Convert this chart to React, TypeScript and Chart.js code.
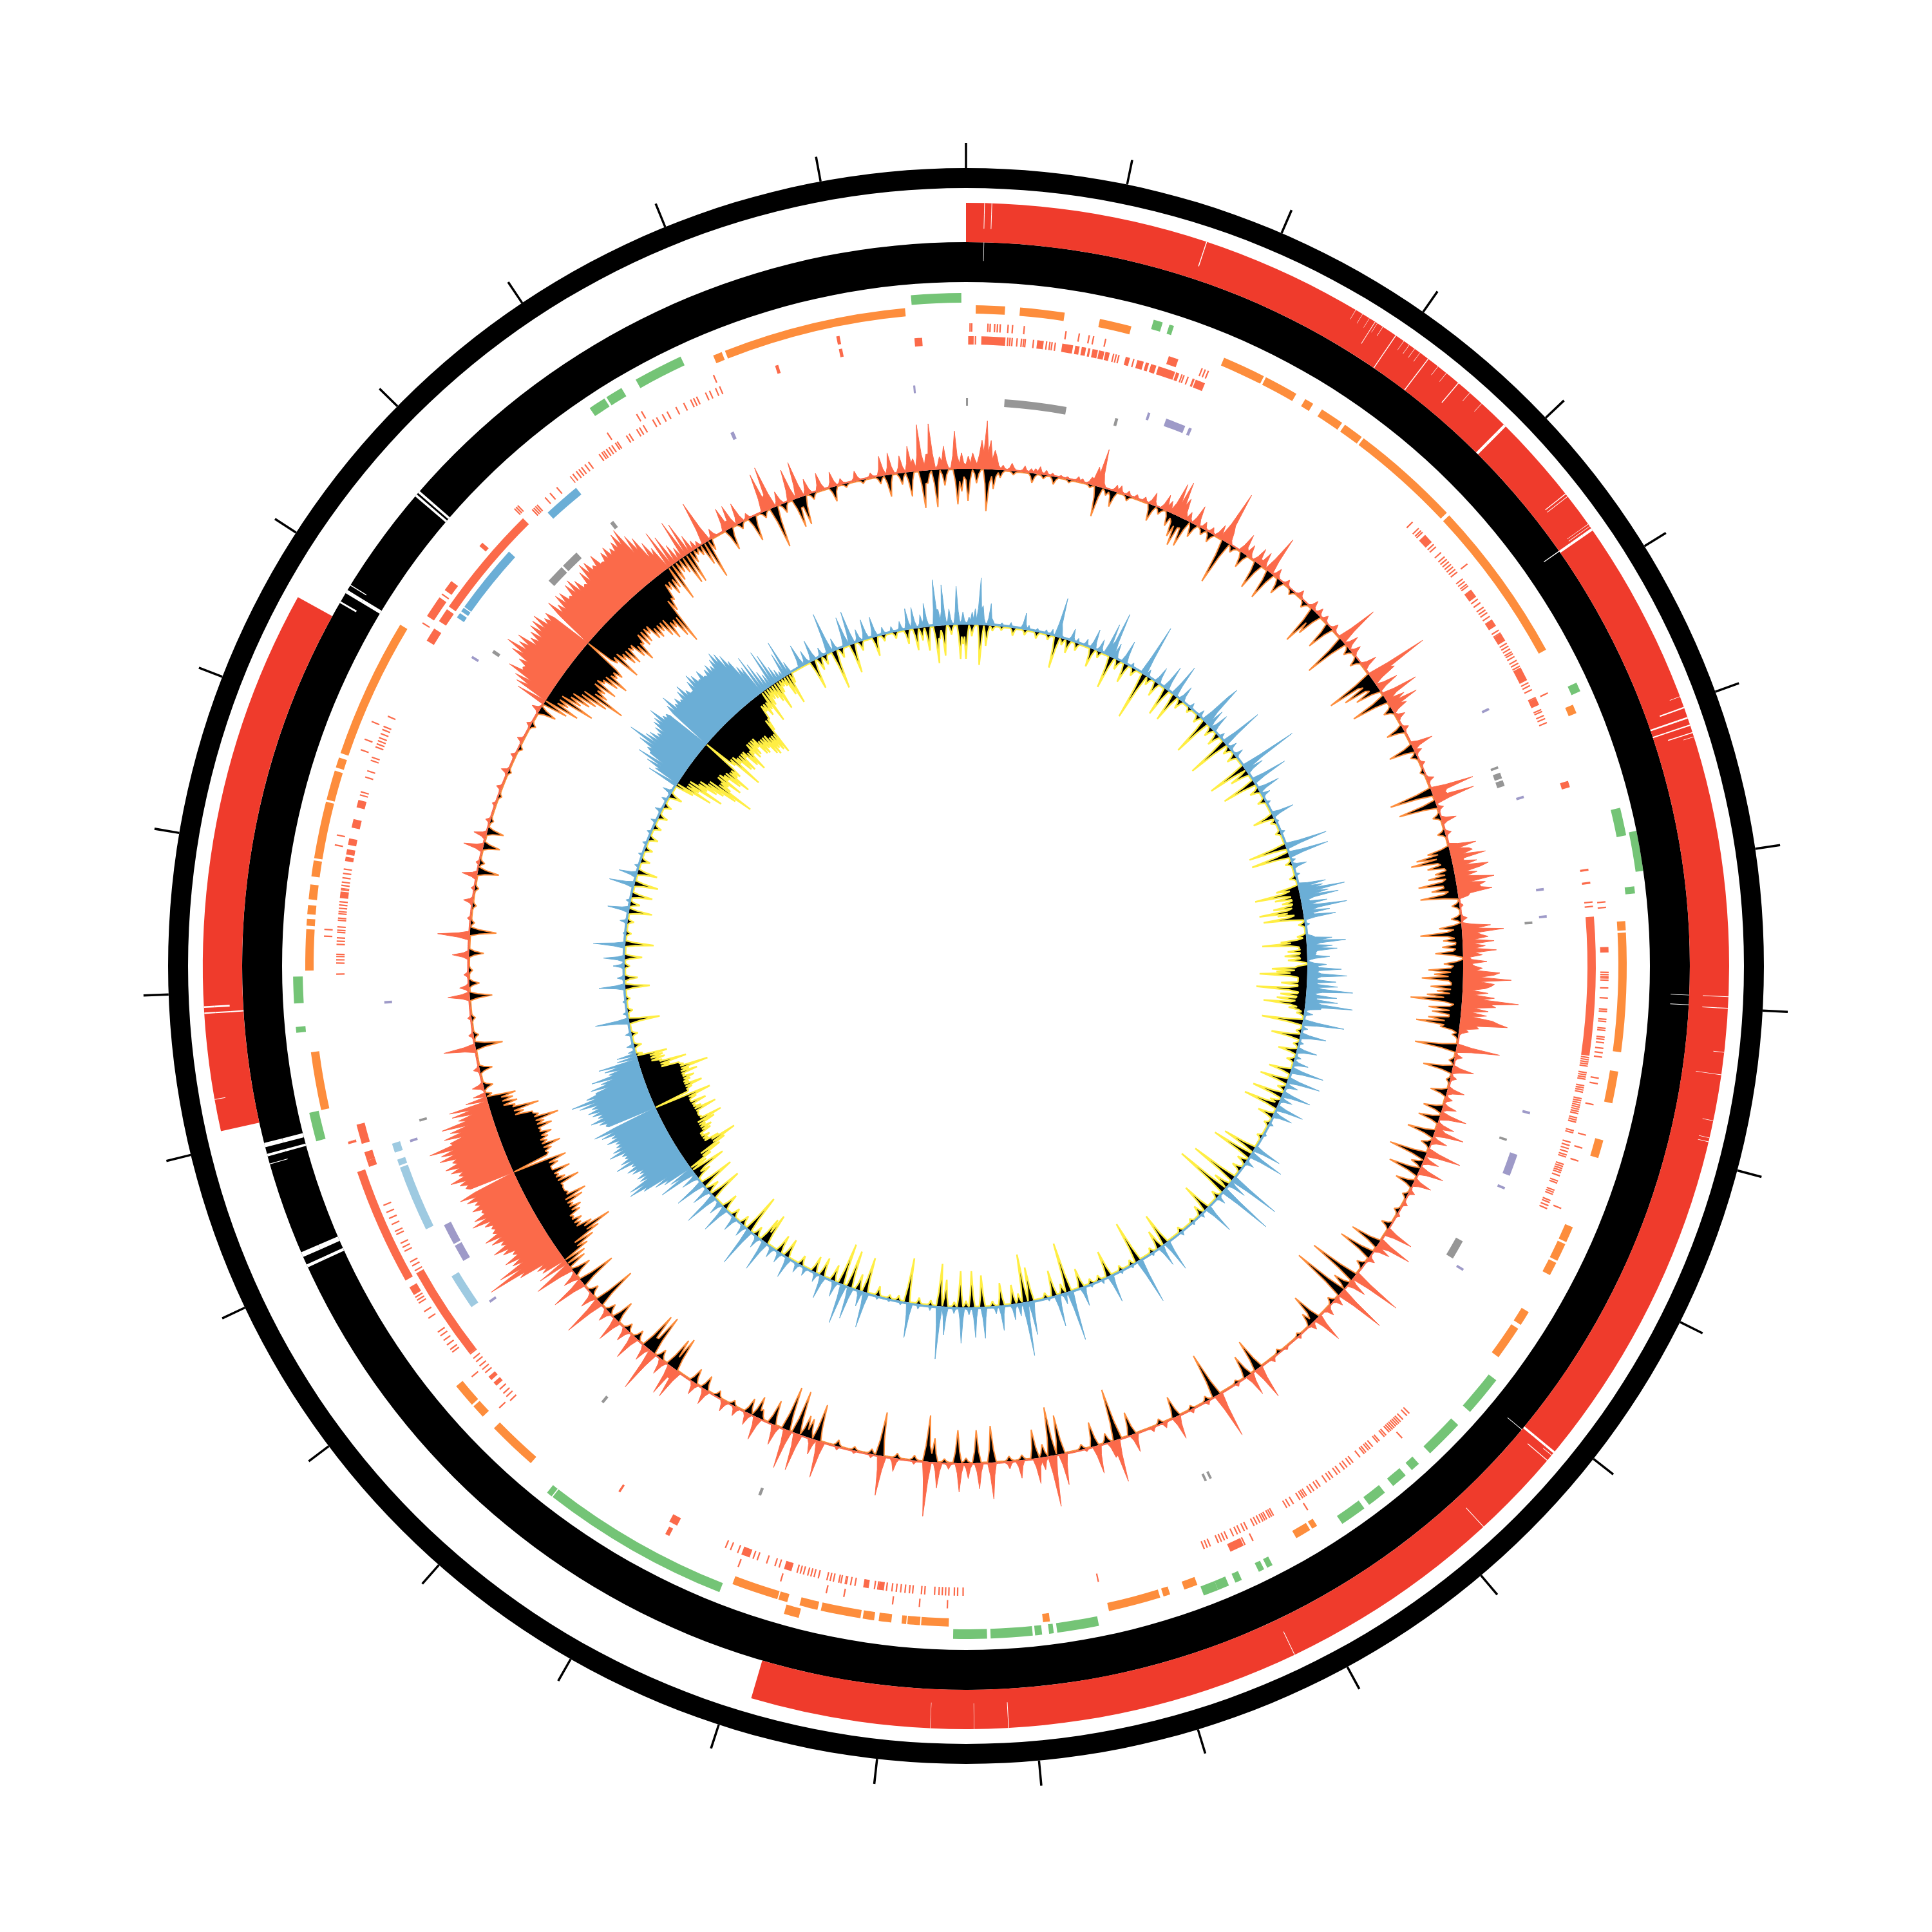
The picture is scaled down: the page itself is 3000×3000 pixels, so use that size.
import React, { useEffect, useRef } from "react";
import { Chart, registerables } from "chart.js";
Chart.register(...registerables);

const RED = "#ef3b2c", CORAL = "#fb6a4a", ORANGE = "#fd8d3c", GREEN = "#74c476", BLUE = "#6baed6",
  LIGHTBLUE = "#9ecae1", PURPLE = "#9e9ac8", GRAY = "#969696", YELLOW = "#ffee44", BLACK = "#000000";

const tickAngles = [0,11.65,23.3,34.95,46.6,58.25,69.9,81.55,93.2,104.85,116.5,128.15,139.8,151.45,163.1,174.75,186.4,198.05,209.7,221.35,233,244.65,256.3,267.95,279.6,291.25,302.9,314.55,326.2,337.85,349.5];
const outerBlack = [[0,360]];
const redSpans = [[0,196.35],[257.5,298.9]];
const innerBlack = [[0,360]];

const thinGreen = [[78.6,82]];
const greenSpans = [[355.3,359.6],[16.2,17],[17.6,18],[65.1,65.9],[76.4,78.8],[83.2,83.8],[128,131.5],[133,136.4],[137.7,138.5],[139.2,140.6],[141.5,143.2],[143.7,146],[152.9,153.4],[153.7,154.2],[155.8,156.4],[157,158],[158,159.3],[168.6,172.2],[172.5,172.9],[173.5,174.1],[174.3,177.9],[178.2,181.1],[201.5,217.9],[218,218.5],[254.9,257.4],[264.3,264.8],[266.8,269.1],[326,327.5],[327.7,329.2],[330.6,334.9]];
const greenLaneOrange = [[194.4,195.7]];
const orangeSpans = [[.85,3.4],[4.7,8.6],[11.7,14.5],[23,26.8],[27,30],[30.9,31.7],[32.6,34.7],[35,36.8],[37,46.7],[47,61.4],[66.7,67.5],[86.1,86.9],[87.1,97.5],[99.2,102],[105.3,106.9],[113.3,114.7],[114.9,116.5],[116.7,117.9],[121.6,122.9],[123.3,126.3],[147.9,148.4],[148.6,150],[159.5,160.7],[162,162.6],[162.9,167.5],[172.7,173.3],[181.5,183.9],[184,185.1],[185.2,185.6],[186.5,187.6],[188,189],[189.2,192.7],[193,194.6],[195.7,196.5],[196.6,200.7],[221.2,225.6],[227,228.2],[228.4,230.5],[257.4,262.5],[269.6,273.2],[273.5,274.1],[274.5,275.3],[275.8,277.1],[277.8,279.2],[279.4,284.4],[284.6,287.2],[287.5,288.4],[288.8,301.1],[337.5,338.3],[338.6,354.7]];

const r1Blocks = [[18.4,19.3],[88.3,88.8],[154.4,155.7],[207.5,207.9],[240.7,251.3],[253.9,254.1],[239.2,240],[303,305],[305.8,306.8],[310.8,311.2],[348.35,348.65]];
const r1Ticks = [.3,.45,1.9,2.1,2.5,2.75,3,3.7,4.1,5.15,8.9,10.1,11,11.4,12.5,21.5,21.8,22.1,51.2,64.8,84.2,84.7,90.5,90.7,90.9,91,91.2,91.9,92.8,93.8,94,94.7,94.9,95.5,95.7,96.3,96.5,96.8,97.3,97.7,98.1,100,100.5,102.4,105.2,106.4,107.6,112.1,137.2,147.8,153.4,154.2,181.6,184.1,186.5,190.9,192.5,196.7,200.7,226.5,230.2,233,233.3,233.8,234.3,234.8,235.2,236.7,237.4,238.3,238.6,238.9,254,272.6,273.2,280.8,281.7,289.6,290.6,292.3,302.2,305.3,315.3,315.5,315.7,326,329.1,329.6,336.8];
const r2Blocks = [[.2,.7],[1.4,3.6],[6.5,7.1],[8.8,9.8],[10,10.4],[10.6,11],[11.2,11.4],[11.6,12.1],[12.2,12.7],[12.8,13.2],[14.7,15.1],[15.8,16.4],[16.6,16.9],[17.1,17.6],[17.8,19.4],[19.5,19.8],[21.1,21.3],[21.4,22.3],[46.8,47.7],[53.3,54.1],[56.6,57.3],[58.1,58.9],[61.7,63],[64.8,65.5],[72.9,73.5],[81.1,81.3],[82.3,82.5],[85.5,98.2],[200.1,200.9],[196.1,196.8],[187.5,188],[188.9,189.4],[228.9,229.3],[228.2,228.6],[232,240.8],[251.4,252],[252,252.8],[253.6,255.4],[301.1,302.4],[303.2,304.5],[304.8,315.3],[342.35,342.65],[355.3,356],[348.35,348.65],[207.3,208.1],[213.3,213.5],[276.2,276.8],[279.6,280],[280.2,280.7],[281.1,281.7],[282.7,283.5],[284.6,285.3],[321,321.1]];
const r2Ticks = [.8,3.75,3.95,4.15,4.6,5,5.2,5.35,6.1,7.3,7.6,7.8,8.1,13.5,13.75,14,15.4,20,20.2,20.6,45.1,45.9,46.2,46.4,47.9,48.2,48.9,49.4,49.7,50,50.3,50.6,50.9,51.2,52,52.3,52.6,52.8,54.3,54.7,55.2,55.5,55.8,56.2,57.7,58,59.1,59.4,59.7,60,60.2,60.5,60.9,61.2,61.5,63.2,63.5,63.9,64.7,65.9,66.1,66.5,66.8,67.2,84.1,84.5,98.3,98.5,98.7,98.9,99.1,99.7,99.9,100.1,100.3,100.9,101.1,101.3,101.5,102.1,102.3,102.5,102.7,102.9,103.1,103.3,103.5,103.9,104.1,104.3,105.1,105.3,106.2,106.5,106.8,107.1,107.4,107.6,108.3,108.5,108.7,108.9,109.1,109.4,109.9,110.1,110.8,111,111.2,111.8,112,112.3,112.6,135.2,135.5,136,136.3,136.5,136.7,136.9,137.1,137.3,137.5,137.7,138.1,138.3,138.9,139.1,139.7,140,140.2,140.5,140.7,141.2,142,142.3,142.7,143,143.5,143.8,144.3,144.6,145,145.7,146,146.4,146.7,147.2,147.4,147.6,147.9,148.6,149,149.3,150.7,150.9,151.1,151.4,151.6,151.8,152.1,152.4,152.7,153.4,153.7,154.1,154.4,154.8,155.4,155.7,156,156.3,157.1,157.4,157.7,167.8,180.2,180.7,181,181.5,181.8,182.1,182.4,182.8,183.7,184,184.8,185.1,185.5,185.9,186.3,186.7,187.2,187.7,188,188.3,190.1,190.5,190.9,191,191.4,191.6,192.1,192.4,192.7,193.5,193.9,194.2,194.5,194.9,195.2,195.5,197.2,197.6,198.4,199.3,199.7,201.2,201.9,202.4,226.3,226.8,227.2,227.7,229.7,230.1,230.5,231,231.4,231.9,232,241,241.5,241.9,243,243.4,243.8,244.7,245,245.7,246.3,246.9,247.6,269.2,270.2,270.5,270.8,271,271.9,272.2,272.5,273,273.2,273.5,274.1,274.3,274.7,274.9,275.2,275.5,275.8,276.9,277,277.3,277.6,278,278.4,278.8,279.8,285.7,286,287.4,288,289,289.3,290.3,290.6,290.9,291.2,291.6,292,292.3,293.3,316.4,316.6,316.8,317,318,318.6,319.4,321.3,321.7,322,322.3,322.7,323.1,324.3,324.6,324.8,325.1,325.4,325.7,326.1,326.3,327.3,327.6,328.4,328.7,329.1,330.1,330.5,331.1,331.6,332.5,333.3,334,334.3,334.6,335.5,335.9,336.5,336.9];
const blueLane = [[304.4,304.9],[305.1,305.5],[305.6,312.2],[317.3,320.8]];
const lightBlueLane = [[235.4,238.9],[244,250.4],[250.6,251.2],[251.9,252.8]];
const purpleLane = [[354.8,355],[18.2,18.45],[20.1,22.1],[22.5,22.8],[63.7,63.95],[73,73.25],[82.3,82.55],[85,85.25],[104.5,104.75],[108.9,111.1],[112.3,112.55],[121.3,121.55],[234.7,234.95],[239.6,241.3],[241.5,243.6],[252.4,252.65],[266.3,266.55],[301.9,302.15],[336.15,336.5]];
const grayLane = [[0,.2],[3.9,10.2],[15.25,15.55],[69.4,69.65],[70.1,70.7],[70.9,71.5],[85.5,85.75],[107.7,107.95],[119,121],[154.35,154.6],[154.9,155.15],[201.15,201.45],[219.65,219.95],[254.1,254.35],[303.45,303.8],[312.7,314.6],[314.8,316.7],[321.2,321.6]];

const redShortNotches = [[30.7,30.73],[31.3,31.33],[31.9,31.93],[32.6,32.63],[33.1,33.13],[35,35.03],[35.5,35.53],[36,36.03],[36.5,36.53],[38.2,38.23],[39,39.03],[41.3,41.33],[42.5,42.53],[69.3,69.34],[72.5,72.54],[96.48,96.52],[101.68,101.72],[103,103.04],[103.3,103.34],[129.85,129.9],[259.9,259.95]];
const redOuterNotches = [[1.37,1.42],[1.92,1.97],[18.35,18.42],[32.4,32.45],[34.25,34.32],[37.25,37.32],[40.15,40.22],[44.8,45.02],[51.75,51.82],[52,52.05],[54.6,54.64],[54.8,54.84],[55,55.2],[70.15,70.26],[70.95,71.08],[71.55,71.65],[72.15,72.23],[92.28,92.33],[93.15,93.21],[98.18,98.22],[129.5,129.68],[130.35,130.41],[137.27,137.32],[154.47,154.52],[176.77,176.82],[179.38,179.41],[182.68,182.71],[266.4,266.5],[266.85,266.98]];
const redInnerNotches = [[34.25,34.32],[37.25,37.32],[44.8,45.02],[55,55.2],[70.95,71.08],[71.55,71.65],[129.5,129.68],[266.4,266.5]];
const blackOuterNotches = [[1.4,1.44],[55,55.07],[92.28,92.32],[93.05,93.1],[129.8,129.85],[245.4,245.65],[246.3,246.7],[254.1,254.16],[254.75,254.95],[255.5,255.85],[300.1,300.25],[301,301.3],[301.7,301.78],[310.45,310.65],[310.8,311]];
const blackInnerNotches = [[245.4,245.65],[246.3,246.7],[254.75,254.95],[255.5,255.85],[301,301.3],[310.45,310.65],[310.8,311]];

const coralPeaks = [[.3,20],[.7,25],[1,15],[1.5,22],[1.8,45],[2.24,75],[2.7,45],[3.2,30],[3.6,20],[4.2,8],[5.2,12],[5.6,6],[6.7,10],[7.4,7],[8,8],[8.6,12],[9.2,8],[10,5],[11,4],[11.8,4],[13,8],[13.6,6],[14.5,12],[15,30],[15.4,60],[16,8],[17.4,11],[18,12],[19,8],[20,7],[21,8],[21.9,20],[23.5,25],[24,18],[24.7,51],[25.2,57],[25.7,33],[26.5,15],[27.5,32],[28.5,12],[29.5,10],[30.5,22],[31.2,83],[31.8,20],[33.7,32],[34.5,20],[35.7,25],[36.5,25],[37.4,62],[38.5,15],[40,10],[42,12],[44,15],[45,12],[46,10],[47.5,12],[49.1,66],[50,22],[51,16],[53,25],[54.4,99],[55,40],[56,35],[57.3,58],[58,30],[58.4,48],[59,26],[60,15],[61.5,10],[63.8,35],[64.5,12],[66,8],[68,12],[69.4,68],[70,20],[70.6,64],[71.5,10],[73.1,24],[74.5,10],[76.3,43],[76.8,30],[77,35],[77.5,54],[78.2,38],[78.7,55],[79,42],[79.5,35],[79.9,38],[80.2,60],[80.7,45],[81,35],[81.2,38],[81.6,54],[83,6],[84.5,10],[85.5,45],[85.9,38],[86.1,65],[86.6,30],[86.8,40],[87.3,49],[87.7,35],[88.2,52],[88.7,30],[89.5,37],[90.2,30],[90.7,57],[91,48],[91.4,75],[91.9,49],[92.2,44],[92.5,35],[93,40],[93.5,50],[93.9,88],[94.2,45],[94.6,53],[95,42],[95.5,40],[95.9,50],[96.2,60],[96.6,74],[97,30],[97.5,15],[99.4,68],[100.5,12],[101.9,34],[103,10],[104.4,27],[105.5,12],[106.4,22],[107.6,42],[108.8,28],[109.5,47],[110.5,25],[112.1,55],[113,25],[114.3,40],[115.7,29],[117,10],[118.5,8],[120,6],[122.2,45],[123.7,55],[124.5,25],[126,12],[128.4,81],[129.5,30],[130.9,79],[132,15],[133.5,15],[135.1,46],[136,12],[138,6],[140,5],[142,8],[143.9,53],[145.3,36],[147,6],[149.5,73],[151,7],[153,7],[155,37],[156.5,10],[158,8],[160.2,29],[162.4,67],[163,26],[164.7,44],[166,5],[168.8,49],[170,80],[171,20],[171.8,40],[173.7,28],[175,12],[177,57],[178.4,40],[179.8,24],[180.8,45],[182,10],[183.3,40],[184.4,85],[186,6],[188.3,21],[189.7,62],[191,6],[193,5],[195,6],[197.1,58],[198,25],[199.8,59],[201.1,62],[202.6,32],[204.8,37],[206,20],[207.5,15],[209,18],[211.6,25],[213,20],[215.5,48],[216.2,49],[217.5,25],[219,69],[220,25],[221.8,41],[223,22],[224.6,39],[226,20],[227.5,65],[228.5,25],[230.4,55],[231.5,25],[232.7,63],[256,18],[258,10],[260.6,50],[262,8],[264,6],[266.4,34],[267.6,15],[269,8],[271.2,26],[273.6,50],[275.5,6],[277.5,15],[279,6],[280.5,24],[282,6],[283.7,31],[285.3,20],[287,8],[289,6],[291,9],[293,12],[295,8],[297,10],[299,8],[301,14],[328.6,69],[329.5,15],[331.3,37],[332,36],[333.1,33],[334,10],[336.2,61],[337,68],[338,22],[339.6,50],[340.5,57],[341.5,25],[343,28],[344.4,24],[345.5,10],[347.3,16],[349,8],[350.2,31],[351.2,34],[352.4,27],[353.4,40],[354,20],[354.85,72],[355.5,25],[356.1,72],[357,20],[357.5,36],[358.7,59],[359.5,25]];
const coralDenseA = [48,55,62,78,58,70,88,102,85,92,74,80,86,88,91,76,80,0,87,74,86,84,70,86,89,80,66,84,93,90,78,91,72,84,88,80,86,95,98,80,70,55,40,63,50,30,20,62,54,28,15,10];
const coralDenseB = [30,50,40,45,72,122,100,72,80,62,75,87,70,82,89,72,70,78,95,88,72,84,76,86,94,0,78,85,97,80,90,96,82,100,95,111,75,82,70,81,52,60,62,34,20];
const coralBlocks = [[0,360,2],[76,78,15],[78,80,18],[80,82,16],[85.5,88,15],[88,90,10],[90,92,18],[92,95,14],[95,97,16],[302.5,303.5,35],[303.5,305,55],[305,306.5,68],[306.5,308,60],[308,310.25,65],[310.75,312,60],[312,314,66],[314,316,62],[316,318,72],[318,320,70],[320,321,72],[321,322,50],[322,323,28],[234,235,30],[235,236,62],[236,238,55],[238,240,62],[240,242,65],[242,245.25,68],[245.75,248,72],[248,250,74],[250,251,72],[251,252,52],[252,253,40],[253,254,28]];

const blackPeaks = [[.3,50],[1.2,22],[2.4,65],[3.2,30],[4.1,12],[5.5,6],[7.7,15],[9,6],[10.2,12],[12,5],[14.5,5],[15.6,47],[16.5,10],[17.3,25],[19,8],[21.9,26],[23,10],[24.2,22],[25,35],[25.5,47],[26.3,44],[27.3,22],[28.5,10],[29.4,15],[31.4,71],[32.5,10],[34,24],[36,44],[37.7,47],[39.2,24],[41,8],[43,10],[44.6,61],[45,40],[47,43],[49.3,69],[50.5,12],[52,15],[54.6,76],[55.3,55],[56,40],[57.4,58],[59,15],[61.4,28],[63.9,40],[65,10],[67,6],[69.5,68],[71.1,60],[72.5,12],[74.5,12],[76.6,35],[77.1,54],[77.6,64],[78.3,40],[79,30],[79.6,42],[80.3,59],[80.9,40],[81.7,59],[83,12],[84.5,15],[85.6,35],[86.3,65],[87,30],[87.7,32],[88.5,43],[89.8,30],[90.6,54],[91.1,45],[91.6,64],[92.4,50],[93,40],[93.5,55],[94.1,80],[94.9,51],[95.5,45],[96.2,50],[96.7,68],[97.2,30],[98,10],[99.6,65],[101,8],[102.1,46],[103.3,6],[104.7,26],[106.8,30],[107.9,33],[109.7,43],[111,15],[112.4,59],[113.5,18],[114.5,49],[116,29],[117.5,8],[119.5,8],[121.5,15],[124.1,48],[125.6,56],[127,12],[128.7,79],[130,25],[131.1,87],[132.5,10],[135.3,46],[136,20],[138,5],[141,6],[144.1,50],[145.6,35],[147,5],[149.7,71],[151,8],[153,6],[155.1,33],[157,8],[160.4,36],[162.3,81],[163.5,15],[165,38],[166.5,8],[169.1,61],[170,76],[171,20],[172,45],[173.5,8],[175,8],[177,57],[178.7,51],[180,8],[180.9,51],[182.5,6],[183.7,37],[184.6,72],[186,8],[188,8],[189.9,68],[191,8],[193,6],[195,10],[197.4,57],[198.5,30],[199,33],[200.1,68],[201.3,69],[202.9,38],[204.5,15],[205.1,33],[206.1,24],[208,8],[210,10],[211.8,22],[213.3,23],[215.9,54],[216.6,48],[218,15],[219.2,64],[220,60],[221.5,15],[223,12],[224.8,34],[226,15],[227.6,66],[229,15],[230.6,59],[232,30],[256,15],[258,20],[260.8,43],[262,8],[264,6],[266.5,35],[268,16],[269.5,6],[271.5,23],[273.9,41],[275,6],[277,6],[279,6],[280.9,33],[282,8],[284.1,26],[285.7,26],[287,5],[290,5],[293,5],[296,6],[299,8],[301,28],[331.5,35],[333,10],[334.5,39],[336,10],[337.3,65],[338.5,15],[339.9,46],[340.7,45],[342,10],[344.6,23],[346,6],[348,6],[350,12],[351.1,34],[352.5,18],[353.5,38],[354.9,58],[355.6,20],[356.4,58],[357.5,25],[359,55],[359.5,35]];
const blackDenseA = [40,56,35,75,50,62,70,85,111,78,70,85,60,80,93,70,75,0,55,90,62,75,80,60,78,90,65,72,70,60,75,78,72,85,95,80,100,115,60,45,30,42,35,60,30,20,25,48,50,20,10,15,35,61,18];
const blackDenseB = [30,35,45,60,75,99,70,55,60,50,65,70,60,80,89,62,55,60,90,70,62,84,55,70,86,0,62,70,87,68,72,80,65,85,75,100,70,62,50,76,40,45,40,46,10];
const blackBlocks = [[0,360,1],[76.5,78,18],[78,80,12],[80,81,20],[81,82,14],[85.5,87,12],[90,92,15],[92,94,18],[94,95.5,12],[95.5,97,18],[302.5,304,18],[304,305,30],[305,306,42],[306,307,58],[307,308,48],[308,309,55],[309,310.25,60],[310.75,312,45],[312,314,52],[314,315,60],[315,317,48],[317,319,58],[319,320.5,68],[320.5,321.5,40],[321.5,323,18],[234,235,28],[235,236,55],[236,238,45],[238,240,52],[240,242,58],[242,245.25,56],[245.75,248,58],[248,250,62],[250,251.5,62],[251.5,253,35],[253,254.5,22]];

const bluePeaks = [[.5,12],[1,20],[1.5,25],[2.2,73],[2.8,30],[3.9,34],[4.5,8],[6,6],[7.5,8],[9.7,26],[10.5,8],[12,6],[13.5,7],[14.5,10],[15.4,62],[16,14],[18,20],[19,8],[20.5,12],[21.7,32],[23,20],[24.3,51],[25,72],[25.7,25],[27.5,37],[29,8],[31.2,83],[32,12],[33.9,27],[35.8,40],[37.5,53],[39.1,26],[41,10],[43,12],[44.2,53],[44.4,70],[45.2,30],[46.3,30],[48,10],[49.2,68],[50.5,14],[52,15],[54.4,92],[55.2,30],[57.3,58],[58.9,36],[60,15],[61.5,8],[63.7,36],[65,6],[67,8],[69.4,67],[71,64],[72,8],[73,23],[74.5,8],[76.5,44],[77,38],[77.5,72],[78.1,45],[78.6,60],[79.4,40],[80.3,70],[81,42],[81.7,50],[83,8],[85,10],[85.6,40],[86.1,61],[86.7,40],[87.2,47],[88.5,35],[89.7,30],[90.6,53],[91.5,62],[92.5,45],[93.2,48],[94,72],[95,48],[95.8,50],[96.5,74],[97,25],[98,14],[99.4,65],[100.5,10],[101.8,41],[103,8],[104.3,32],[105.5,10],[106.4,24],[107.7,52],[109.6,52],[110.5,20],[112.1,46],[113,20],[114.4,44],[115.8,31],[117.5,8],[119.5,6],[122.2,45],[123.6,56],[125,15],[128.4,83],[129.5,30],[131,87],[132.5,15],[135.1,49],[136.5,8],[138.5,6],[141,8],[144,50],[145.2,34],[147,6],[149.5,73],[151,6],[153,6],[154.9,44],[156.5,8],[158.5,6],[160,31],[162.3,79],[163.2,18],[164.6,50],[166,6],[168.9,53],[170,84],[171,20],[172,25],[173.9,39],[175,12],[176.9,49],[178.4,47],[179.5,12],[180.7,56],[182,10],[183.4,44],[184.4,82],[186,8],[188,8],[189.6,55],[191,6],[193,5],[195,6],[196.9,56],[198,25],[199.8,51],[201.1,63],[202.5,25],[204.7,37],[206,15],[208,14],[209.5,16],[211.3,34],[213,18],[214.5,18],[216.1,50],[217.5,20],[219.2,64],[220.5,20],[222.5,25],[224.7,45],[226,22],[227.5,55],[229,30],[230.5,49],[232,28],[232.9,61],[256.5,12],[258.5,10],[260.7,53],[262,8],[264,6],[266.4,41],[268,12],[270,18],[271.2,33],[273.6,50],[275.5,5],[277.5,12],[279.5,34],[281,8],[283.8,40],[285.4,29],[287,8],[289,8],[291,8],[293,8],[295,10],[297,12],[299,10],[300.5,16],[331.2,37],[332.3,22],[333.5,34],[335,15],[336.5,65],[337.5,20],[339.5,47],[340.6,53],[341.8,20],[343,32],[344.5,32],[346,12],[347.5,10],[349,15],[350.3,33],[351.3,33],[352.5,20],[353.3,37],[354.9,72],[355.5,25],[356.2,63],[357.2,25],[358.6,60],[359.4,20]];
const blueDenseA = [50,42,60,79,60,70,88,109,84,80,70,78,85,88,100,80,78,0,85,98,78,84,76,88,94,80,70,88,96,90,78,90,72,84,88,82,90,98,92,84,70,55,50,64,48,30,22,60,50,26,18,12,40,58,20];
const blueDenseB = [61,40,48,62,80,102,98,76,78,70,80,86,75,99,88,78,80,99,90,82,80,92,82,96,106,0,82,90,102,88,95,100,92,110,121,95,78,84,66,79,50,55,63,32,31,12];
const blueBlocks = [[0,360,3],[76.5,82,12],[85.5,88,14],[90,92,16],[92,95,14],[95,97,14],[302.5,304,35],[304,306,62],[306,308,62],[308,310.25,72],[310.75,312,70],[312,314,72],[314,316,72],[316,318,76],[318,320,72],[320,321,76],[321,322,62],[322,323,38],[234,235,38],[235,236,72],[236,238,62],[238,240,68],[240,242,72],[242,245.25,72],[245.75,248,78],[248,250,80],[250,251,78],[251,252,55],[252,253,42],[253,254,30]];

const yellowPeaks = [[.1,53],[1,18],[2.4,62],[3.4,32],[4.5,8],[6,6],[8,12],[10,8],[12,10],[14,8],[15.5,49],[16.5,10],[17.4,20],[19,12],[21.8,29],[23,10],[25.3,51],[26.5,15],[27.9,30],[29.5,12],[31.4,75],[32.5,12],[34.1,23],[36,45],[37.7,45],[39,15],[41,8],[43,12],[44.5,60],[46,15],[47.5,20],[49.2,66],[50.5,12],[52,15],[54.5,62],[55.5,30],[57.5,54],[59,15],[61,12],[63.9,33],[65,8],[67,8],[69.4,60],[71,60],[72.5,10],[75,10],[76.7,35],[77.6,70],[78.3,40],[79,30],[79.7,45],[80.4,68],[81,40],[81.7,63],[83,10],[85,14],[85.7,40],[86.3,69],[87.5,30],[88.3,35],[89,30],[90.5,55],[91.1,48],[91.6,74],[93,40],[93.9,78],[95,40],[95.8,45],[96.6,65],[97.2,25],[98,12],[99.5,64],[101,8],[102,45],[103.3,8],[104.6,29],[106,12],[108,35],[109.8,44],[111,12],[112.2,48],[113.5,15],[114.3,55],[116,25],[117.5,8],[120,8],[122.6,53],[123.8,65],[125,15],[126.5,15],[128.5,75],[130,25],[131.1,86],[132.5,12],[135.3,45],[136.5,15],[138.5,6],[141,8],[144.2,51],[145.6,29],[147,8],[149.8,66],[151,8],[153,8],[155.3,41],[157,8],[158.5,8],[160.3,30],[162.5,78],[163.5,15],[165,40],[166.5,8],[169,53],[170,75],[171,15],[172,30],[174,35],[175.5,8],[177.3,49],[178.9,56],[180,10],[181,56],[182,8],[183.6,42],[184.6,66],[186,8],[188,10],[190,69],[191.5,8],[193,6],[195,15],[197.3,55],[198.5,25],[200,58],[201.4,65],[203,25],[204.9,29],[206.5,25],[209,15],[211.8,29],[213.2,28],[215.9,49],[216.5,39],[218,15],[219.5,61],[221,15],[223,14],[225,25],[227.8,51],[229,20],[230.2,54],[232,25],[232.8,55],[256.5,12],[258.5,10],[260.8,48],[262.5,8],[264.5,6],[266.4,38],[268,20],[270,8],[271.6,27],[273.8,44],[275.5,8],[277.5,10],[279.2,36],[280.5,15],[282,32],[284,37],[285.9,31],[288,14],[290,12],[292,14],[294,12],[296,14],[298,12],[300,20],[333.2,46],[334.5,20],[335.5,15],[337.2,61],[338.5,15],[340.6,46],[342,15],[344.5,30],[346,10],[348,10],[350,22],[351.4,34],[352.5,20],[353.6,37],[354.9,58],[355.5,20],[356.3,47],[357.5,15],[359,53],[359.6,30]];
const yellowDenseA = [30,59,35,74,45,60,70,90,116,75,68,88,62,82,95,70,72,0,55,100,60,78,82,60,80,91,65,75,72,62,78,80,74,88,92,84,90,97,58,40,28,38,30,54,28,20,22,30,46,20,12,14,32,49,16];
const yellowDenseB = [30,28,40,60,72,93,66,50,55,46,62,66,58,76,90,58,52,58,89,66,58,78,52,66,91,0,58,66,84,64,68,76,62,84,72,104,66,56,46,74,36,42,40,48,10];
const yellowBlocks = [[0,360,1],[76.5,82,14],[85.5,87,12],[90,92,14],[92,94,14],[94,97,12],[302.5,304,15],[304,305,28],[305,306,40],[306,307,55],[307,308,46],[308,309,52],[309,310.25,56],[310.75,312,44],[312,314,50],[314,315,56],[315,317,46],[317,319,55],[319,320.5,62],[320.5,321.5,38],[321.5,323,16],[234,235,26],[235,236,52],[236,238,42],[238,240,48],[240,242,55],[242,245.25,54],[245.75,248,56],[248,250,58],[250,251.5,60],[251.5,253,32],[253,254.5,20]];

const denseAStart = 302;
const denseBStart = 233;
const BINS_PER_DEGREE = 4;
const BIN_COUNT = 360 * BINS_PER_DEGREE;
const angleLabels = Array.from({ length: BIN_COUNT }, (_, i) => String(i / BINS_PER_DEGREE));
const PEAK_SHOULDER = 0.35;

const TRANSPARENT = "rgba(0,0,0,0)";

type Layer = { spans: number[][]; color: string };
type Ring = { outer: number; inner: number; layers: Layer[] };

const tickSpans = tickAngles.flatMap((a) => (a === 0 ? [[359.92, 360], [0, 0.08]] : [[a - 0.08, a + 0.08]]));
const markSpans = (ticks: number[], blocks: number[][]) => [...blocks, ...ticks.map((t) => [t, t + 0.13])];

const rings: Ring[] = [
  { outer: 1278, inner: 1239, layers: [{ spans: tickSpans, color: BLACK }] },
  { outer: 1239, inner: 1208, layers: [{ spans: outerBlack, color: BLACK }] },
  { outer: 1208, inner: 1185, layers: [] },
  { outer: 1185, inner: 1124, layers: [{ spans: redSpans, color: RED }] },
  { outer: 1124, inner: 1062, layers: [{ spans: innerBlack, color: BLACK }] },
  { outer: 1062, inner: 1050, layers: [{ spans: thinGreen, color: GREEN }] },
  { outer: 1050, inner: 1045, layers: [] },
  { outer: 1045, inner: 1030, layers: [{ spans: greenSpans, color: GREEN }, { spans: greenLaneOrange, color: ORANGE }] },
  { outer: 1030, inner: 1026, layers: [] },
  { outer: 1026, inner: 1013, layers: [{ spans: orangeSpans, color: ORANGE }] },
  { outer: 1013, inner: 998, layers: [] },
  { outer: 998, inner: 985, layers: [{ spans: markSpans(r1Ticks, r1Blocks), color: CORAL }] },
  { outer: 985, inner: 978, layers: [] },
  { outer: 978, inner: 965, layers: [{ spans: markSpans(r2Ticks, r2Blocks), color: CORAL }] },
  { outer: 965, inner: 958, layers: [] },
  { outer: 958, inner: 945, layers: [{ spans: blueLane, color: BLUE }] },
  { outer: 945, inner: 933, layers: [] },
  { outer: 933, inner: 920, layers: [{ spans: lightBlueLane, color: LIGHTBLUE }] },
  { outer: 920, inner: 905, layers: [] },
  { outer: 905, inner: 893, layers: [{ spans: purpleLane, color: PURPLE }] },
  { outer: 893, inner: 882, layers: [] },
  { outer: 882, inner: 870, layers: [{ spans: grayLane, color: GRAY }] },
  { outer: 870, inner: 0, layers: [] },
];
const notchRings: Ring[] = [
  { outer: 1278, inner: 1185, layers: [] },
  { outer: 1185, inner: 1168, layers: [{ spans: [...redShortNotches, ...redOuterNotches], color: "#ffffff" }] },
  { outer: 1168, inner: 1145, layers: [{ spans: redOuterNotches, color: "#ffffff" }] },
  { outer: 1145, inner: 1124, layers: [{ spans: redInnerNotches, color: "#ffffff" }] },
  { outer: 1124, inner: 1095, layers: [{ spans: blackOuterNotches, color: "#ffffff" }] },
  { outer: 1095, inner: 1062, layers: [{ spans: blackInnerNotches, color: "#ffffff" }] },
  { outer: 1062, inner: 0, layers: [] },
];

function ringDataset(ring: Ring) {
  const all = ring.layers.flatMap((l) => l.spans.map((s) => ({ s: s[0], e: s[1], c: l.color }))).sort((a, b) => a.s - b.s);
  const data: number[] = [];
  const colors: string[] = [];
  let cursor = 0;
  for (const seg of all) {
    const s = Math.max(seg.s, cursor);
    if (seg.e <= s) continue;
    if (s > cursor) { data.push(s - cursor); colors.push(TRANSPARENT); }
    data.push(seg.e - s); colors.push(seg.c);
    cursor = seg.e;
  }
  if (cursor < 360) { data.push(360 - cursor); colors.push(TRANSPARENT); }
  return { data, backgroundColor: colors, borderWidth: 0, weight: ring.outer - ring.inner, hoverOffset: 0 };
}

function buildHeights(peaks: number[][], blocks: number[][], denseA: number[], denseB: number[]) {
  const out = new Array(BIN_COUNT).fill(0);
  for (const [s, e, h] of blocks) {
    for (let i = Math.ceil(s * BINS_PER_DEGREE); i <= Math.floor(e * BINS_PER_DEGREE) && i < BIN_COUNT; i++) out[i] = Math.max(out[i], h);
  }
  for (const [a, h] of peaks) {
    const i = Math.round(a * BINS_PER_DEGREE) % BIN_COUNT;
    out[i] = Math.max(out[i], h);
    const l = (i + BIN_COUNT - 1) % BIN_COUNT, r = (i + 1) % BIN_COUNT;
    out[l] = Math.max(out[l], h * PEAK_SHOULDER);
    out[r] = Math.max(out[r], h * PEAK_SHOULDER);
  }
  const place = (start: number, vals: number[]) => vals.forEach((v, k) => {
    const i = start * BINS_PER_DEGREE + k * 2;
    out[i] = v === 0 ? 1 : Math.max(v, out[i]);
  });
  place(denseAStart, denseA);
  place(denseBStart, denseB);
  return out;
}

const ORANGE_BASE = 772, CORAL_BASE = 772, YELLOW_BASE = 530, BLUE_BASE = 530;

function doughnutConfig(list: Ring[]) {
  return {
    type: "doughnut" as const,
    data: { labels: [], datasets: list.map(ringDataset) },
    options: {
      animation: false as const, responsive: false, cutout: 0, rotation: 0, circumference: 360,
      layout: { padding: 222 },
      plugins: { legend: { display: false }, tooltip: { enabled: false } },
      events: [],
    },
  };
}

export default function App() {
  const a = useRef<HTMLCanvasElement>(null);
  const b = useRef<HTMLCanvasElement>(null);
  const c = useRef<HTMLCanvasElement>(null);
  useEffect(() => {
    const coral = buildHeights(coralPeaks, coralBlocks, coralDenseA, coralDenseB);
    const black = buildHeights(blackPeaks, blackBlocks, blackDenseA, blackDenseB);
    const blue = buildHeights(bluePeaks, blueBlocks, blueDenseA, blueDenseB);
    const yellow = buildHeights(yellowPeaks, yellowBlocks, yellowDenseA, yellowDenseB);
    const spike = (vals: number[], base: number, sign: number, fillColor: string, line: string, width: number) => ({
      data: vals.map((v) => base + sign * v),
      fill: { value: base },
      backgroundColor: fillColor,
      borderColor: line,
      borderWidth: width,
      borderJoinStyle: "bevel",
      pointRadius: 0,
      tension: 0,
    });
    const base = new Chart(a.current!, doughnutConfig(rings) as any);
    const radar = new Chart(b.current!, {
      type: "radar",
      data: {
        labels: angleLabels,
        datasets: [
          spike(coral, CORAL_BASE, 1, CORAL, CORAL, 1),
          spike(black, ORANGE_BASE, -1, BLACK, ORANGE, 2),
          spike(blue, BLUE_BASE, 1, BLUE, BLUE, 1),
          spike(yellow, YELLOW_BASE, -1, BLACK, YELLOW, 2.5),
        ],
      },
      options: {
        animation: false, responsive: false, events: [],
        plugins: { legend: { display: false }, tooltip: { enabled: false } },
        scales: {
          r: {
            min: 0, max: 1500, startAngle: 0,
            grid: { display: false }, angleLines: { display: false },
            ticks: { display: false }, pointLabels: { display: false },
          },
        },
      },
    } as any);
    const notches = new Chart(c.current!, doughnutConfig(notchRings) as any);
    return () => { base.destroy(); radar.destroy(); notches.destroy(); };
  }, []);
  const st: React.CSSProperties = { position: "absolute", left: 0, top: 0, width: 3000, height: 3000 };
  return (
    <div style={{ position: "absolute", left: 0, top: 0, width: 3000, height: 3000, background: "#ffffff" }}>
      <canvas ref={a} width={3000} height={3000} style={st} />
      <canvas ref={b} width={3000} height={3000} style={st} />
      <canvas ref={c} width={3000} height={3000} style={st} />
    </div>
  );
}
